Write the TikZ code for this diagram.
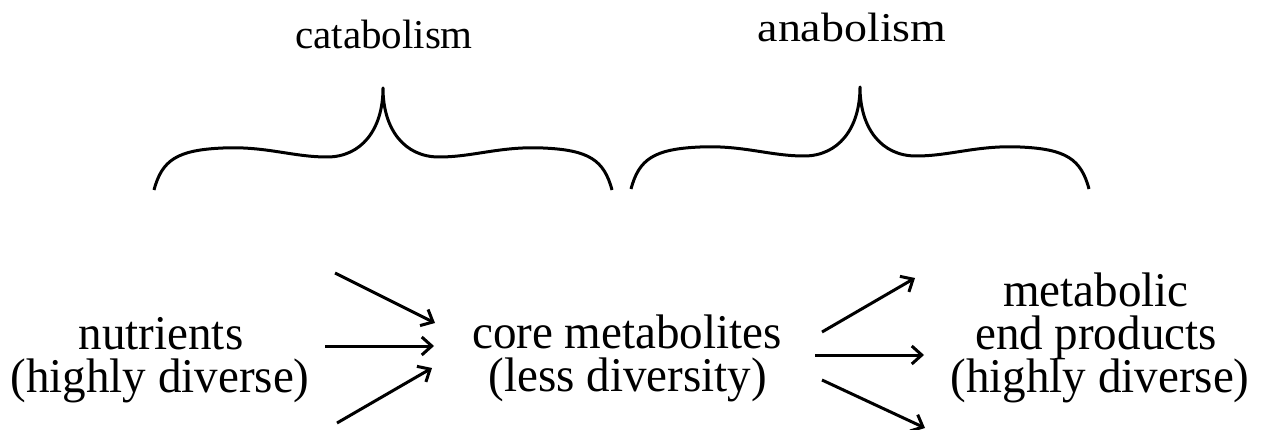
\documentclass[tikz,border=0pt]{standalone}
\usepackage{fontspec}
\setmainfont{Liberation Serif}
\newfontfamily\bodyfont{Liberation Serif}[FakeStretch=0.97]
\newfontfamily\anafont{Liberation Serif}[FakeStretch=1.12]
\usetikzlibrary{arrows.meta}
\begin{document}
\begin{tikzpicture}[x=1pt,y=-1pt,
  body/.style={font=\bodyfont\fontsize{48.5}{43}\selectfont, anchor=base, inner sep=0pt, text height=30pt, text depth=8pt},
  title/.style={anchor=base, inner sep=0pt},
  flow/.style={line width=3pt, -{Straight Barb[length=10pt,width=18pt,line width=3pt]}},
  bracestyle/.style={line width=3pt, line join=round},
  pics/curlybrace/.style={code={
    \draw[bracestyle] (-229,102) .. controls (-221,72) and (-206,62) .. (-160,60)
      .. controls (-118,58) and (-90,69) .. (-56,69)
      .. controls (-22,69) and (0,42) .. (0,0)
      .. controls (0,42) and (22,69) .. (56,69)
      .. controls (90,69) and (118,58) .. (160,60)
      .. controls (206,62) and (221,72) .. (229,102);
  }}]
\useasboundingbox (0,0) rectangle (1268,430);

% titles
\node[title, font=\fontsize{41}{44}\selectfont] (cat) at (384,49) {catabolism};
\node[title, font=\anafont\fontsize{41}{44}\selectfont] (ana) at (852,42) {anabolism};

% braces
\pic (b1) at (383,88) {curlybrace};
\pic (b2) at (860,87) {curlybrace};

% text blocks
\node[body] (nut1) at (161,349) {nutrients};
\node[body] (nut2) at (160,392) {(highly diverse)};
\node[body] (core1) at (627,348) {core metabolites};
\node[body] (core2) at (628,391) {(less diversity)};
\node[body] (end1) at (1096,306) {metabolic};
\node[body] (end2) at (1096,349) {end products};
\node[body] (end3) at (1100,392) {(highly diverse)};

% arrow coordinates
\coordinate (l1s) at (335,273); \coordinate (l1e) at (435,323);
\coordinate (l2s) at (325,346); \coordinate (l2e) at (434,346);
\coordinate (l3s) at (337,423); \coordinate (l3e) at (432,368);
\coordinate (r1s) at (822,332); \coordinate (r1e) at (915,278);
\coordinate (r2s) at (815,355); \coordinate (r2e) at (924,355);
\coordinate (r3s) at (822,380); \coordinate (r3e) at (925,428);

\draw[flow] (l1s) -- (l1e);
\draw[flow] (l2s) -- (l2e);
\draw[flow] (l3s) -- (l3e);
\draw[flow] (r1s) -- (r1e);
\draw[flow] (r2s) -- (r2e);
\draw[flow] (r3s) -- (r3e);
\end{tikzpicture}
\end{document}
